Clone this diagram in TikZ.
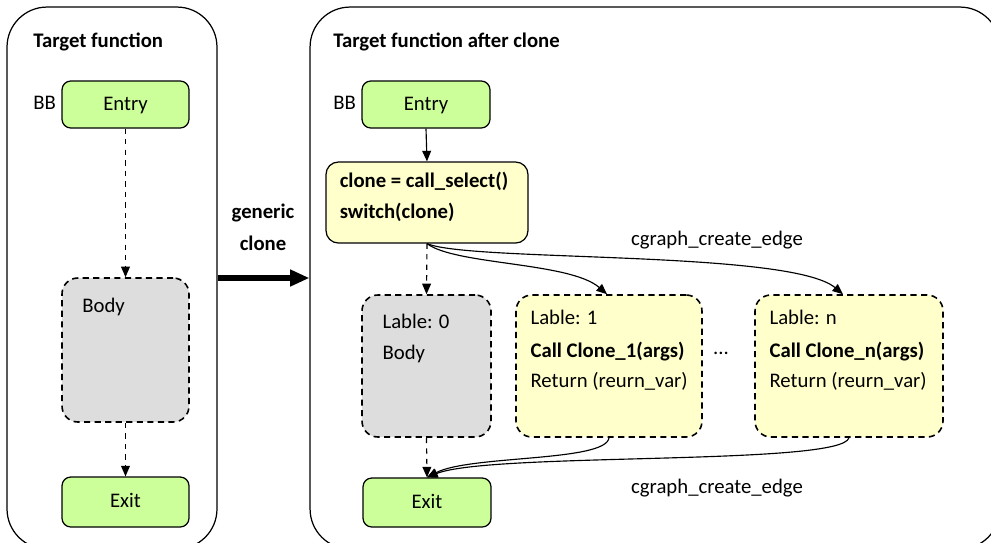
\documentclass[tikz,border=0pt]{standalone}
\usepackage{fontspec}
\setmainfont{Carlito}
\usetikzlibrary{arrows.meta, calc}
\definecolor{bbgreen}{RGB}{204,255,153}
\definecolor{bbyellow}{RGB}{255,255,204}
\definecolor{bbgray}{RGB}{221,221,221}

\begin{document}
\begin{tikzpicture}[x=0.02cm, y=-0.02cm, font=\fontsize{11.8}{14}\selectfont,
  panel/.style={draw, line width=0.7pt, rounded corners=0.8cm, inner sep=0},
  bb/.style={draw, line width=0.7pt, rounded corners=5, fill=bbgreen, inner sep=0, text height=1.5ex, text depth=0.1ex},
  selbox/.style={draw, line width=0.7pt, rounded corners=7, fill=bbyellow, inner sep=0},
  labbox/.style={draw, line width=0.9pt, dash pattern=on 3.5pt off 2.5pt, rounded corners=9, inner sep=0},
  txt/.style={anchor=west, inner sep=0, text height=1.6ex, text depth=0.2ex},
  bold/.style={font=\fontsize{11.8}{14}\selectfont\bfseries},
  tip/.style={line width=0.65pt, -{Triangle[length=6pt, width=5pt]}}]
\useasboundingbox (0,0) rectangle (991,542);
\clip (0,0) rectangle (991,542);
% two panels
\node[panel, minimum width=4.2cm, minimum height=10.84cm] (lpanel) at (112,278) {};
\node[panel, minimum width=13.8cm, minimum height=10.84cm] (rpanel) at (655,278) {};
\node[txt, bold] (ltitle) at (33,42) {Target function};
\node[txt, bold] (rtitle) at (333,42) {Target function after clone};
% before
\node[bb, minimum width=2.54cm, minimum height=0.94cm] (entryL) at (125.5,104.5) {Entry};
\node[txt] (bbL) at (33,104) {BB};
\node[labbox, fill=bbgray, minimum width=2.54cm, minimum height=2.88cm] (bodyL) at (125.5,350) {};
\node[txt] (bodyLt) at (82,307) {Body};
\node[bb, minimum width=2.54cm, minimum height=1.0cm] (exitL) at (125.5,502) {Exit};
\draw[dashed, tip] (entryL.south) -- (bodyL.north);
\draw[dashed, tip] (bodyL.south) -- (exitL.north);
% generic clone
\draw[line width=3pt, -{Triangle[length=11pt, width=9pt]}] (lpanel.east) -- (rpanel.west);
\node[bold] (gc1) at (263,213) {generic};
\node[bold] (gc2) at (263,243) {clone};
% after
\node[bb, minimum width=2.56cm, minimum height=0.94cm] (entryR) at (426,104.5) {Entry};
\node[txt] (bbR) at (333,104) {BB};
\node[selbox, minimum width=4.04cm, minimum height=1.62cm] (sel) at (427,202.5) {};
\node[txt, bold] (sel1) at ($(sel.north west)+(14,20)$) {clone = call\_select()};
\node[txt, bold] (sel2) at ($(sel.north west)+(14,51)$) {switch(clone)};
\draw[tip] (entryR.south) -- (sel.north);

\node[labbox, fill=bbgray, minimum width=2.58cm, minimum height=2.84cm] (lab0) at (426.5,366) {};
\node[txt] (l0a) at ($(lab0.north west)+(21,28)$) {Lable: 0};
\node[txt] (l0b) at ($(lab0.north west)+(21,59)$) {Body};

\node[labbox, fill=bbyellow, minimum width=3.72cm, minimum height=2.84cm] (lab1) at (609,366) {};
\node[txt] (l1a) at ($(lab1.north west)+(15,24)$) {Lable: 1};
\node[txt, bold] (l1b) at ($(lab1.north west)+(15,57)$) {Call Clone\_1(args)};
\node[txt] (l1c) at ($(lab1.north west)+(15,87)$) {Return (reurn\_var)};

\node (dots) at (721,353) {...};

\node[labbox, fill=bbyellow, minimum width=3.76cm, minimum height=2.84cm] (labn) at (849,366) {};
\node[txt] (lna) at ($(labn.north west)+(15,24)$) {Lable: n};
\node[txt, bold] (lnb) at ($(labn.north west)+(15,57)$) {Call Clone\_n(args)};
\node[txt] (lnc) at ($(labn.north west)+(15,87)$) {Return (reurn\_var)};

\node[bb, minimum width=2.56cm, minimum height=0.98cm] (exitR) at (427,502.5) {Exit};

\draw[dashed, tip] (sel.south) -- (lab0.north);
\draw[dashed, tip] (lab0.south) -- (exitR.north);
\draw[tip] (sel.south) .. controls (455,265) and (570,262) .. ($(lab1.north)+(-2,0)$);
\draw[tip] (sel.south) .. controls (470,262) and (790,250) .. ($(labn.north)+(-6,0)$);
\draw[tip] (lab1.south) .. controls (606,462) and (470,455) .. (exitR.north);
\draw[tip] (labn.south) .. controls (842,466) and (490,452) .. (exitR.north);
\node (ce1) at (717,240) {cgraph\_create\_edge};
\node (ce2) at (717,488) {cgraph\_create\_edge};
\end{tikzpicture}
\end{document}
